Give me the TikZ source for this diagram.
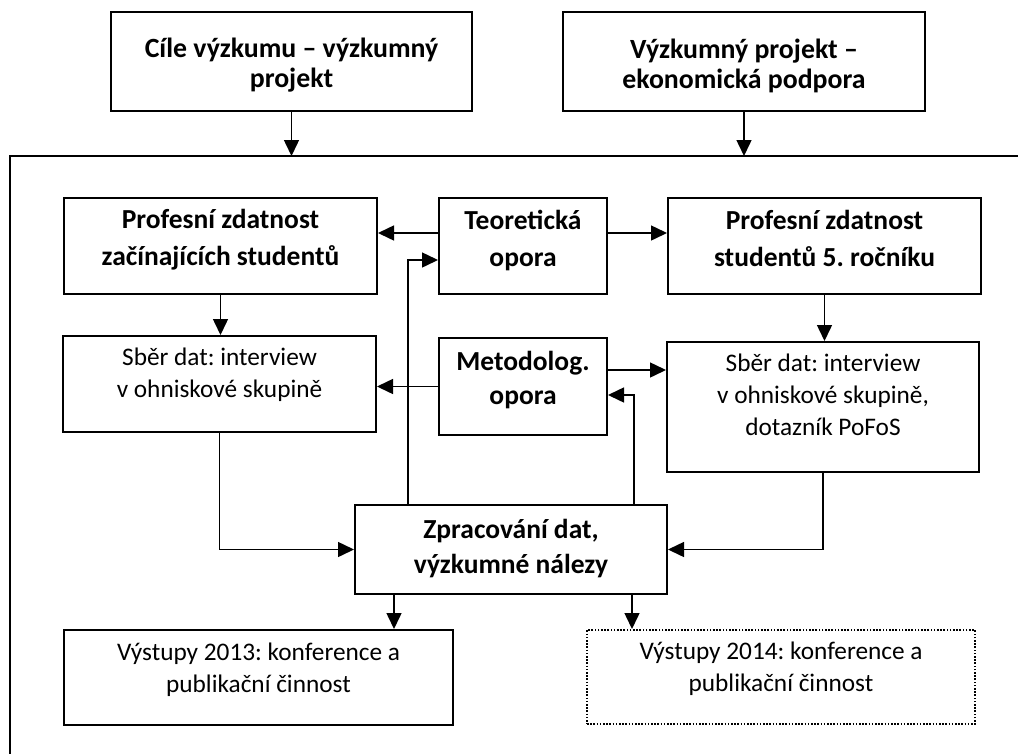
\documentclass[tikz,border=0pt]{standalone}
\usepackage{fontspec}
\setmainfont{Carlito}
\usetikzlibrary{arrows.meta}
\frenchspacing
\newcommand{\bt}[4]{\parbox[c][#2][t]{#1}{\centering\rule{0pt}{#3}#4}}
\tikzset{
  box/.style={draw, line width=2pt, inner sep=0pt},
  dotbox/.style={draw, line width=2pt, inner sep=0pt, dash pattern=on 1.6pt off 1.6pt},
  arr/.style={line width=1.5pt, -{Triangle[length=16pt,width=15pt]}},
  ln/.style={line width=2pt},
  bt/.style={font=\bfseries\fontsize{27.8}{30}\selectfont},
  bm/.style={font=\bfseries\fontsize{27.5}{37}\selectfont},
  rg/.style={font=\fontsize{25.3}{32}\selectfont},
}
\begin{document}
\begin{tikzpicture}[x=1pt,y=-1pt]
\useasboundingbox (0,0) rectangle (1018,753);
% top boxes
\node[box,bt] (top1) at (291.5,61.5) {\bt{361pt}{99pt}{45pt}{Cíle výzkumu – výzkumný\\projekt}};
\node[box,bt] (top2) at (744,61.5) {\bt{362pt}{99pt}{46pt}{Výzkumný projekt –\\ekonomická podpora}};
% frame
\coordinate (fr1) at (1030,156);
\coordinate (fr2) at (10,156);
\coordinate (fr3) at (10,770);
\draw[ln] (fr1) -- (fr2) -- (fr3);
\draw[arr] (top1.south) -- (top1.south |- fr2);
\draw[arr] (top2.south) -- (top2.south |- fr2);
% row 1
\node[box,bm] (A) at (220.5,246) {\bt{313pt}{96pt}{30pt}{Profesní zdatnost\\začínajících studentů}};
\node[box,bm] (T) at (523,246) {\bt{168pt}{96pt}{31pt}{Teoretická\\opora}};
\node[box,bm] (B) at (824.5,246) {\bt{313pt}{96pt}{31pt}{Profesní zdatnost\\studentů 5. ročníku}};
% row 2
\node[box,rg] (C) at (219.5,384) {\bt{313pt}{96pt}{29pt}{Sběr dat: interview\\v ohniskové skupině}};
\node[box,bm,font=\bfseries\fontsize{27.5}{34}\selectfont] (M) at (523,386.5) {\bt{168pt}{97pt}{32pt}{Metodolog.\\opora}};
\node[box,rg] (D) at (823,407) {\bt{312pt}{130pt}{29pt}{Sběr dat: interview\\v ohniskové skupině,\\dotazník PoFoS}};
% row 3
\node[box,bm,font=\bfseries\fontsize{27.5}{35}\selectfont] (Z) at (511,549.5) {\bt{312pt}{89pt}{33pt}{Zpracování dat,\\výzkumné nálezy}};
% row 4
\node[box,rg] (V13) at (258.5,677.5) {\bt{389pt}{95pt}{30pt}{Výstupy 2013: konference a\\publikační činnost}};
\node[dotbox,rg] (V14) at (781,677) {\bt{388pt}{94pt}{29pt}{Výstupy 2014: konference a\\publikační činnost}};
% connectors
\draw[arr] ([yshift=13pt]T.west) -- ([yshift=13pt]T.west -| A.east);
\draw[arr] ([yshift=13pt]T.east) -- ([yshift=13pt]T.east -| B.west);
\draw[arr] (A.south) -- (A.south |- C.north);
\draw[arr] (B.south) -- (B.south |- D.north);
\draw[arr] (M.west) -- (M.west -| C.east);
\draw[arr] ([yshift=16.5pt]M.east) -- ([yshift=16.5pt]M.east -| D.west);
\coordinate (zl) at (408,0);
\coordinate (zr) at (634,0);
\draw[arr] (Z.north -| zl) |- ([yshift=-14pt]T.west);
\draw[arr] (Z.north -| zr) |- ([yshift=-8.5pt]M.east);
\draw[arr] (C.south) |- (Z.west);
\draw[arr] (D.south) |- (Z.east);
\coordinate (d1) at (394,0);
\coordinate (d2) at (632,0);
\draw[arr] (Z.south -| d1) -- (V13.north -| d1);
\draw[arr] (Z.south -| d2) -- (V14.north -| d2);
\end{tikzpicture}
\end{document}
